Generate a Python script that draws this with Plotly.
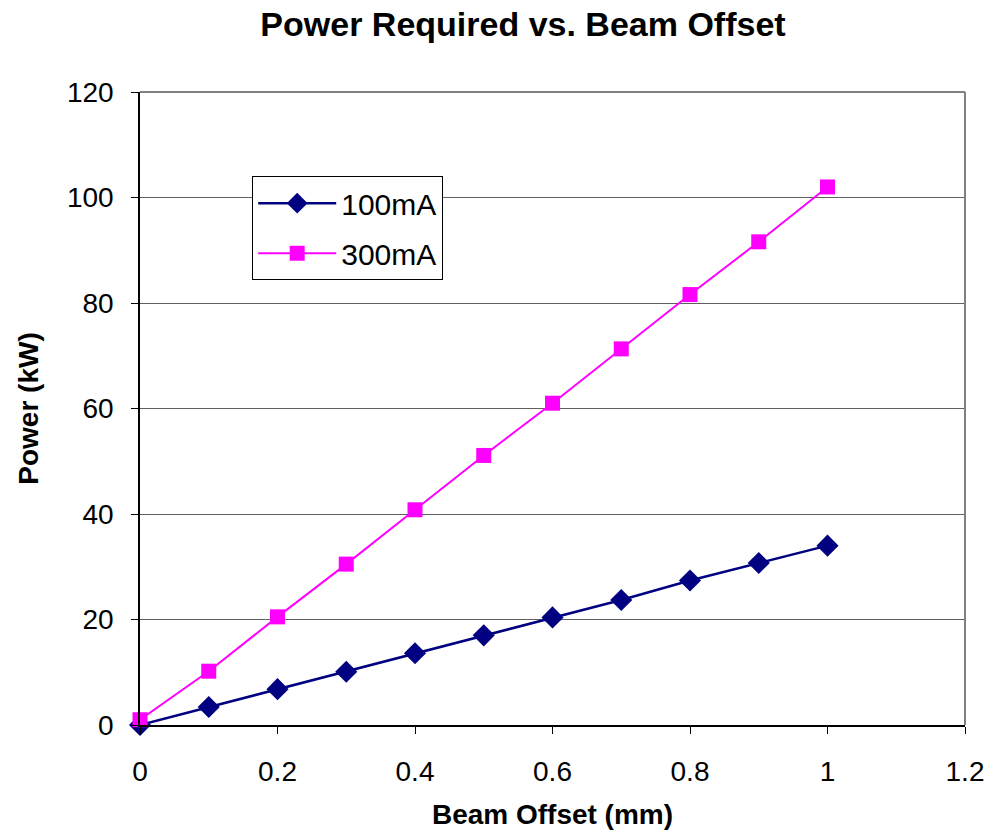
import plotly.graph_objects as go

offset_mm = [0, 0.1, 0.2, 0.3, 0.4, 0.5, 0.6, 0.7, 0.8, 0.9, 1.0]
power_100mA = [0, 3.4, 6.8, 10.1, 13.6, 17.0, 20.4, 23.7, 27.4, 30.7, 34.0]
power_300mA = [1.0, 10.2, 20.5, 30.5, 40.8, 51.1, 61.0, 71.3, 81.6, 91.6, 102.0]

x_ticks = [0, 0.2, 0.4, 0.6, 0.8, 1.0, 1.2]
x_tick_labels = ["0", "0.2", "0.4", "0.6", "0.8", "1", "1.2"]
y_ticks = [0, 20, 40, 60, 80, 100, 120]

FONT = "Liberation Sans, Arial, sans-serif"

fig = go.Figure()
fig.add_trace(go.Scatter(
    x=offset_mm, y=power_100mA, name="100mA", mode="lines+markers",
    line=dict(color="#000080", width=2.5),
    marker=dict(symbol="diamond", size=17, color="#000080"),
    cliponaxis=False, legendgroup="a"))
fig.add_trace(go.Scatter(
    x=offset_mm, y=power_300mA, name="300mA", mode="lines+markers",
    line=dict(color="#FF00FF", width=2),
    marker=dict(symbol="square", size=15, color="#FF00FF"),
    cliponaxis=False, legendgroup="b"))

fig.update_layout(
    width=1000, height=838,
    margin=dict(l=140, r=35, t=92, b=113),
    paper_bgcolor="white", plot_bgcolor="white",
    font=dict(family=FONT, color="black", size=28),
    title=dict(text="<b>Power Required vs. Beam Offset</b>",
               x=0.523, xanchor="center", y=0.971, yanchor="middle",
               font=dict(size=34, family=FONT)),
    showlegend=True,
    legend=dict(x=0.136, y=0.867, xanchor="left", yanchor="top",
                bgcolor="white", bordercolor="black", borderwidth=1,
                font=dict(size=30, family=FONT), tracegroupgap=8,
                itemwidth=78),
    xaxis=dict(range=[0, 1.2], tickvals=x_ticks, ticktext=x_tick_labels,
               showline=True, linecolor="black", linewidth=1.5,
               ticks="outside", ticklen=7, tickcolor="black",
               showgrid=False, zeroline=False, ticklabelstandoff=14,
               tickfont=dict(size=28),
               title=dict(text="<b>Beam Offset (mm)</b>", font=dict(size=28),
                          standoff=18)),
    yaxis=dict(range=[0, 120], tickvals=y_ticks,
               showline=True, linecolor="black", linewidth=1.5,
               ticks="outside", ticklen=7, tickcolor="black",
               showgrid=True, gridcolor="#606060", gridwidth=1,
               zeroline=False, ticklabelstandoff=12,
               tickfont=dict(size=28),
               title=dict(text="<b>Power (kW)</b>", font=dict(size=28),
                          standoff=20)),
    shapes=[
        dict(type="line", xref="paper", yref="paper", x0=0, x1=1, y0=1, y1=1,
             line=dict(color="#808080", width=2)),
        dict(type="line", xref="paper", yref="paper", x0=1, x1=1, y0=0, y1=1,
             line=dict(color="#808080", width=2)),
    ],
)

fig.write_html("out.html")
